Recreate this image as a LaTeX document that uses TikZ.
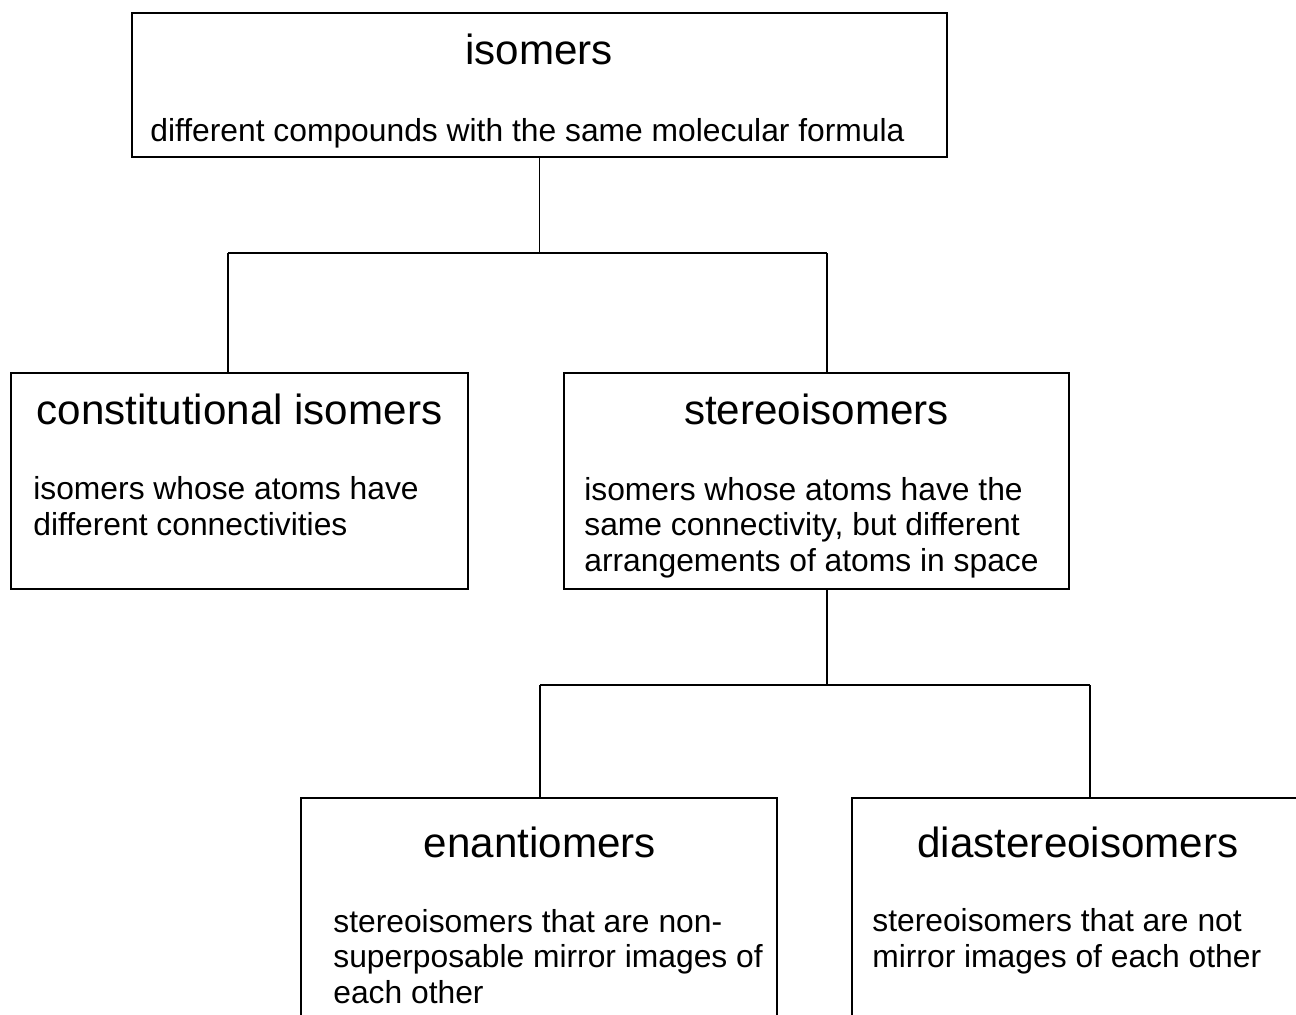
\documentclass[tikz,border=0pt]{standalone}
\usepackage{fontspec}
\setmainfont{Liberation Sans}
\usetikzlibrary{positioning}

\tikzset{
  box/.style={draw, line width=1pt, inner sep=0pt},
  title/.style={anchor=base, inner sep=0pt, font=\fontsize{24}{28}\selectfont},
  desc/.style={anchor=base west, inner sep=0pt, align=left, font=\fontsize{18.1}{20.2}\selectfont},
  link/.style={line width=1pt}
}

\begin{document}
\begin{tikzpicture}[x=0.02cm, y=-0.02cm]

% Frame of the picture
\clip (0,0) rectangle (1296,1015);

% Draw boxes
\node[box, minimum width=16.30cm, minimum height=2.88cm] (iso) at (539.5,85) {};
\node[box, minimum width=9.14cm, minimum height=4.32cm] (con) at (239.5,481) {};
\node[box, minimum width=10.10cm, minimum height=4.32cm] (ste) at (816.5,481) {};
\node[box, minimum width=9.52cm, minimum height=6.04cm] (ena) at (539,949) {};
\node[box, minimum width=9.04cm, minimum height=6.04cm] (dia) at (1078,949) {};

% Titles
\node[title] (isotitle) at (539,64) {isomers};
\node[title] (contitle) at (239.5,424) {constitutional isomers};
\node[title] (stetitle) at (816.5,424) {stereoisomers};
\node[title] (enatitle) at (540,857) {enantiomers};
\node[title] (diatitle) at (1078,857) {diastereoisomers};

% Descriptions (placed at the baseline of their last line)
\node[desc] (isodesc) at (150,141) {different compounds with the same molecular formula};
\node[desc] (condesc) at (33,535) {isomers whose atoms have\\different connectivities};
\node[desc] (stedesc) at (584,571) {isomers whose atoms have the\\same connectivity, but different\\arrangements of atoms in space};
\node[desc] (enadesc) at (333,1003) {stereoisomers that are non-\\superposable mirror images of\\each other};
\node[desc] (diadesc) at (872,967) {stereoisomers that are not\\mirror images of each other};

% Branch points
\coordinate (b1l) at (228,253);
\coordinate (b1r) at (827,253);
\coordinate (b2l) at (540,685);
\coordinate (b2r) at (1090,685);

% Draw connecting lines
\draw[link] (iso.south) -- (iso.south |- b1l);
\draw[link] (b1l) -- (b1r);
\draw[link] (b1l) -- (b1l |- con.north);
\draw[link] (b1r) -- (b1r |- ste.north);
\draw[link] (b1r |- ste.south) -- (b1r |- b2l);
\draw[link] (b2l) -- (b2r);
\draw[link] (b2l) -- (b2l |- ena.north);
\draw[link] (b2r) -- (b2r |- dia.north);

\end{tikzpicture}
\end{document}
